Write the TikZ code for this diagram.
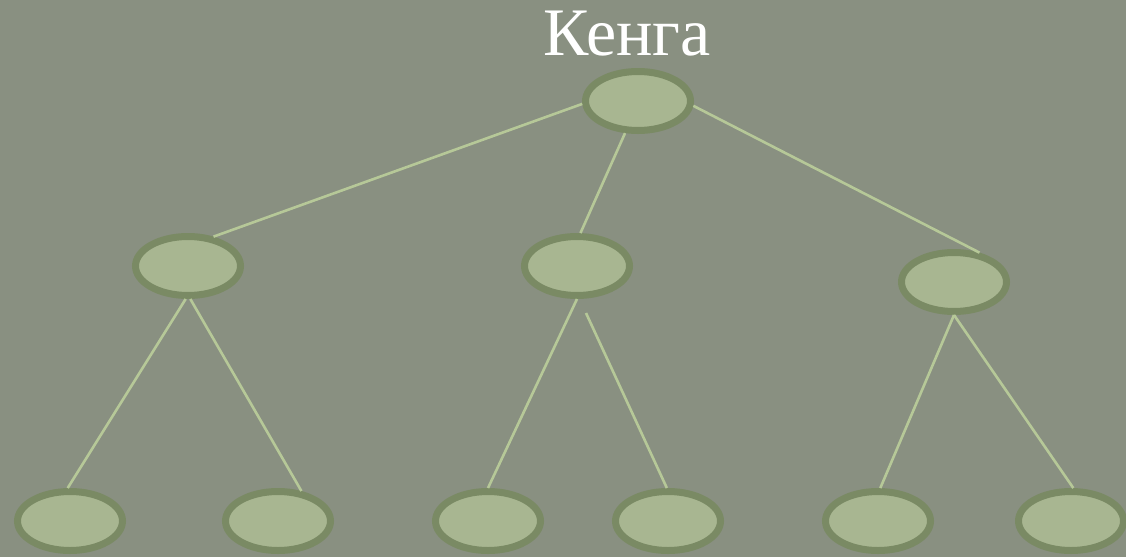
\documentclass[tikz,border=0pt]{standalone}
\usepackage{fontspec}
\setmainfont{Liberation Serif}
\usetikzlibrary{shapes.geometric,positioning}
\definecolor{bgcol}{RGB}{137,144,129}
\definecolor{leafcol}{RGB}{168,182,145}
\definecolor{rimcol}{RGB}{122,138,100}
\definecolor{linkcol}{RGB}{182,200,152}
\tikzset{
    leaf/.style ={ellipse, draw=rimcol, fill=leafcol, line width=7pt,
                  minimum width=105pt, minimum height=59pt, inner sep=0pt},
    link/.style ={draw=linkcol, line width=2.6pt},
    title/.style ={text=white, font=\fontsize{68}{80}\selectfont, anchor=base}
}
\begin{document}
\begin{tikzpicture}[x=1pt,y=-1pt]

    \fill[bgcol] (0,0) rectangle (1126,557);
    \useasboundingbox (0,0) rectangle (1126,557);

    % top of the tree
    \node[leaf] (root) at (638,101) {};
    \node[title] (name) at (627,55) {Кенга};

    % middle row
    \node[leaf] (midL) at (188,266) {};
    \node[leaf] (midM) at (577,266) {};
    \node[leaf] (midR) at (954,282) {};

    % bottom row
    \node[leaf] (lowA) at (70,521) {};
    \node[leaf] (lowB) at (278,521) {};
    \node[leaf] (lowC) at (488,521) {};
    \node[leaf] (lowD) at (668,521) {};
    \node[leaf] (lowE) at (878,521) {};
    \node[leaf] (lowF) at (1071,521) {};

    % loose start of one line
    \coordinate (gap) at (586,313);

    % links
    \path[link] (root.183) edge (midL.49);
    \path[link] (root.248) edge (midM.84);
    \path[link] (root.355) edge (midR.49);

    \path[link] (midL.266) edge (lowA.94);
    \path[link] (midL.274) edge (lowB.52);
    \path[link] (midM.270) edge (lowC.90);
    \path[link] (gap) edge (lowD.92);
    \path[link] (midR.270) edge (lowE.86);
    \path[link] (midR.270) edge (lowF.86);

\end{tikzpicture}
\end{document}
